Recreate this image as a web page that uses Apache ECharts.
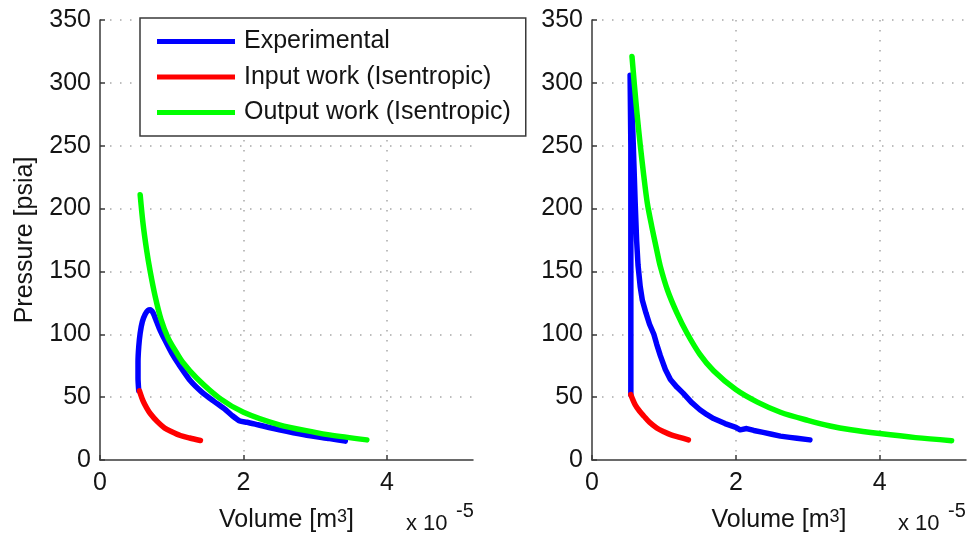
<!DOCTYPE html>
<html>
<head>
<meta charset="utf-8">
<title>P-V diagram</title>
<script src="https://cdn.jsdelivr.net/npm/echarts@6/dist/echarts.min.js"></script>
<style>
  html, body { margin: 0; padding: 0; background: #fff; }
  #chart { width: 967px; height: 539px; }
</style>
</head>
<body>
<div id="chart"></div>
<script>
// Volume in units of 1e-5 m^3, pressure in psia
const seriesNames = ['Experimental', 'Input work (Isentropic)', 'Output work (Isentropic)'];
const seriesColors = ['#0000ff', '#ff0000', '#00ff00'];

const xTicks = [0, 2, 4];
const yTicks = [0, 50, 100, 150, 200, 250, 300, 350];

// left panel
const leftExperimental = [
  [0.54, 55], [0.53, 65], [0.53, 78], [0.54, 90], [0.56, 101], [0.59, 110],
  [0.63, 116], [0.67, 119], [0.70, 119.5], [0.74, 117], [0.79, 110], [0.84, 103],
  [0.90, 96], [1.00, 85], [1.10, 76], [1.26, 63], [1.42, 54], [1.58, 47],
  [1.75, 40], [1.85, 35], [1.95, 31], [2.05, 30], [2.2, 28], [2.5, 24],
  [2.85, 20], [3.2, 17], [3.42, 15]
];
const leftInput = [
  [0.55, 55], [0.60, 47], [0.65, 41.5], [0.70, 37], [0.80, 30.5], [0.90, 25.5],
  [1.00, 22.5], [1.12, 19.5], [1.25, 17.5], [1.40, 15.5]
];
const leftOutput = [
  [0.56, 211], [0.60, 188], [0.65, 167], [0.70, 150], [0.77, 130], [0.85, 112],
  [0.95, 97], [1.05, 87], [1.15, 78], [1.35, 65], [1.67, 49], [2.0, 38],
  [2.5, 28], [3.0, 22], [3.2, 20], [3.72, 16]
];

// right panel
const rightExperimental = [
  [0.54, 52], [0.54, 100], [0.54, 150], [0.54, 200], [0.54, 250], [0.53, 306],
  [0.56, 275], [0.58, 240], [0.60, 205], [0.62, 175], [0.64, 155], [0.67, 138],
  [0.70, 127], [0.75, 117], [0.80, 108], [0.86, 100], [0.90, 92], [0.95, 83],
  [1.02, 72], [1.09, 64], [1.18, 58], [1.27, 53], [1.38, 46], [1.50, 40],
  [1.60, 36], [1.69, 33], [1.85, 29], [2.0, 26], [2.06, 24], [2.15, 25],
  [2.25, 23.5], [2.38, 22], [2.5, 20.5], [2.62, 19], [2.75, 18], [2.85, 17.3],
  [3.03, 16]
];
const rightInput = [
  [0.54, 52], [0.60, 44], [0.66, 39], [0.72, 35], [0.80, 30], [0.90, 25.5],
  [1.00, 22.5], [1.10, 20], [1.22, 18], [1.34, 16]
];
const rightOutput = [
  [0.556, 321], [0.59, 298], [0.63, 273], [0.67, 251], [0.72, 226], [0.77, 204],
  [0.83, 186], [0.90, 167], [0.95, 154], [1.05, 135], [1.18, 117], [1.32, 101],
  [1.50, 84], [1.69, 71], [2.0, 56], [2.3, 46], [2.62, 38], [3.0, 31.5],
  [3.31, 27], [3.6, 24], [4.0, 21], [4.5, 17.8], [5.0, 15.4]
];

const FONT = '"Liberation Sans", Arial, Helvetica, sans-serif';
const TEXT = '#141414';
const AXIS = '#3a3a3a';
const GRIDLINE = { color: '#a8a8a8', width: 1.5, type: [1.5, 8.5] };

function xAxisFor(gridIndex) {
  return {
    type: 'value', gridIndex, min: 0, max: 5.2, interval: 2,
    name: 'Volume [m{sup|3}]', nameLocation: 'middle', nameGap: 48,
    nameTextStyle: {
      fontFamily: FONT, fontSize: 25, color: TEXT, lineHeight: 25,
      rich: { sup: { fontFamily: FONT, fontSize: 18, color: TEXT, lineHeight: 18, verticalAlign: 'top' } }
    },
    axisLine: { show: true, onZero: false, lineStyle: { color: AXIS, width: 1.5 } },
    axisTick: { show: true, inside: true, length: 5, customValues: xTicks, lineStyle: { color: AXIS, width: 1.5 } },
    axisLabel: { customValues: xTicks, margin: 11, fontFamily: FONT, fontSize: 25, color: TEXT },
    splitLine: { show: true, showMinLine: false, lineStyle: GRIDLINE }
  };
}

function yAxisFor(gridIndex, withName) {
  return {
    type: 'value', gridIndex, min: 0, max: 350, interval: 50,
    name: withName ? 'Pressure [psia]' : '', nameLocation: 'middle', nameGap: 62,
    nameTextStyle: { fontFamily: FONT, fontSize: 25, color: TEXT },
    axisLine: { show: true, onZero: false, lineStyle: { color: AXIS, width: 1.5 } },
    axisTick: { show: true, inside: true, length: 5, customValues: yTicks, lineStyle: { color: AXIS, width: 1.5 } },
    axisLabel: { customValues: yTicks, margin: 9, fontFamily: FONT, fontSize: 25, color: TEXT },
    splitLine: { show: true, showMinLine: false, lineStyle: GRIDLINE }
  };
}

function lineSeries(name, data, idx, smooth) {
  const color = seriesColors[seriesNames.indexOf(name)];
  return {
    type: 'line', name, data, xAxisIndex: idx, yAxisIndex: idx,
    showSymbol: false, symbol: 'none', smooth: smooth,
    lineStyle: { width: 5.5, color, cap: 'round', join: 'round' },
    itemStyle: { color },
    emphasis: { disabled: true }
  };
}

function exponentLabel(x) {
  return [
    { type: 'text', x: x, y: 524, style: { text: 'x 10', fontFamily: FONT, fontSize: 22, fill: TEXT, align: 'left', verticalAlign: 'middle' } },
    { type: 'text', x: x + 50, y: 511, style: { text: '-5', fontFamily: FONT, fontSize: 20, fill: TEXT, align: 'left', verticalAlign: 'middle' } }
  ];
}

const chart = echarts.init(document.getElementById('chart'), null, { renderer: 'canvas' });
chart.setOption({
  animation: false,
  backgroundColor: '#fff',
  grid: [
    { left: 100, top: 20, width: 373, height: 440 },
    { left: 592, top: 20, width: 374, height: 440 }
  ],
  xAxis: [xAxisFor(0), xAxisFor(1)],
  yAxis: [yAxisFor(0, true), yAxisFor(1, false)],
  legend: {
    data: seriesNames, orient: 'vertical', left: 140, top: 18,
    padding: [11, 15, 11, 17], itemGap: 10.5, itemWidth: 78, itemHeight: 5,
    icon: 'rect', selectedMode: false,
    backgroundColor: '#fff', borderColor: '#3a3a3a', borderWidth: 1.5, borderRadius: 0,
    textStyle: { fontFamily: FONT, fontSize: 25, color: TEXT, lineHeight: 25, padding: [0, 0, 0, 4] }
  },
  graphic: exponentLabel(406).concat(exponentLabel(898)),
  series: [
    lineSeries('Experimental', leftExperimental, 0, 0.2),
    lineSeries('Input work (Isentropic)', leftInput, 0, 0.3),
    lineSeries('Output work (Isentropic)', leftOutput, 0, 0.3),
    lineSeries('Experimental', rightExperimental, 1, false),
    lineSeries('Input work (Isentropic)', rightInput, 1, 0.3),
    lineSeries('Output work (Isentropic)', rightOutput, 1, 0.3)
  ]
});
</script>
</body>
</html>
